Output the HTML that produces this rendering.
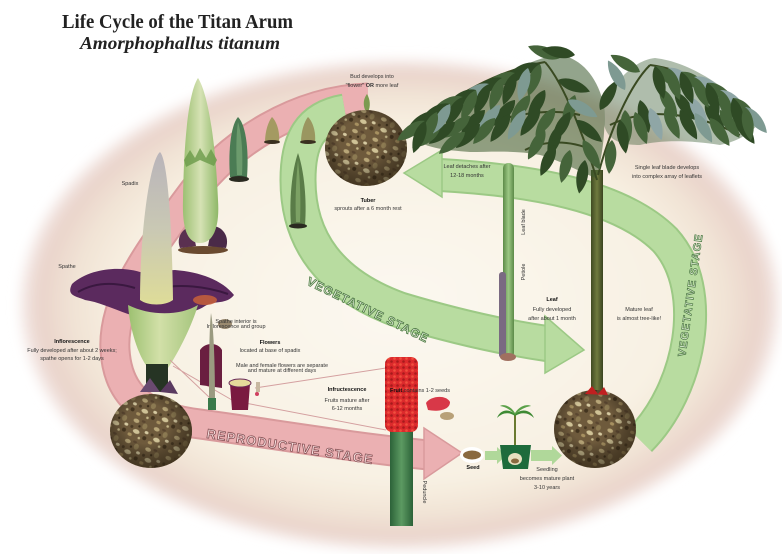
<!DOCTYPE html>
<html><head><meta charset="utf-8"><style>
html,body{margin:0;padding:0;background:#fff;}
svg{display:block;}
.t{font-family:"Liberation Sans",sans-serif;font-size:5.5px;fill:#333;text-anchor:middle;}
.b{font-weight:bold;fill:#111;}
</style></head><body>
<svg width="782" height="554" viewBox="0 0 782 554" xmlns="http://www.w3.org/2000/svg">
<defs>
<radialGradient id="bg" cx="0.5" cy="0.5" r="0.5">
<stop offset="0" stop-color="#fbf8f0"/>
<stop offset="0.72" stop-color="#f8f1e3"/>
<stop offset="0.86" stop-color="#f1e3d5"/>
<stop offset="0.95" stop-color="#e9d3ca"/>
<stop offset="1" stop-color="#f6ecea"/>
</radialGradient>
<filter id="bl" x="-5%" y="-5%" width="110%" height="110%"><feGaussianBlur stdDeviation="6"/></filter>
<pattern id="tp" width="22" height="22" patternUnits="userSpaceOnUse" patternTransform="rotate(23)">
<rect width="22" height="22" fill="#6e5a3c"/>
<ellipse cx="4" cy="4" rx="3" ry="2" fill="#b8a678"/>
<ellipse cx="14" cy="6" rx="2.5" ry="3" fill="#8c7a52"/>
<ellipse cx="8" cy="14" rx="3.5" ry="2.2" fill="#cfc296"/>
<circle cx="18" cy="17" r="2" fill="#43341f"/>
<circle cx="2" cy="11" r="1.5" fill="#4a3a24"/>
<ellipse cx="11" cy="2" rx="2" ry="1.2" fill="#5a4630"/>
<ellipse cx="18" cy="11" rx="2" ry="1.5" fill="#d6caa2"/>
<ellipse cx="3" cy="19" rx="2.2" ry="1.6" fill="#a69060"/>
<circle cx="13" cy="19" r="1.3" fill="#c4b688"/>
<circle cx="9" cy="8" r="1.2" fill="#3e301c"/>
</pattern>
<radialGradient id="tsh" cx="0.45" cy="0.4" r="0.6">
<stop offset="0.45" stop-color="#000" stop-opacity="0"/>
<stop offset="1" stop-color="#2a2010" stop-opacity="0.6"/>
</radialGradient>
<linearGradient id="spx" x1="0" y1="0" x2="0" y2="1">
<stop offset="0" stop-color="#b9b4ba"/>
<stop offset="0.5" stop-color="#c9c8b4"/>
<stop offset="1" stop-color="#dedc98"/>
</linearGradient>
<linearGradient id="bud" x1="0" y1="0" x2="1" y2="0">
<stop offset="0" stop-color="#9cc072"/>
<stop offset="0.5" stop-color="#d6e2b4"/>
<stop offset="1" stop-color="#8fb868"/>
</linearGradient>
<linearGradient id="cup" x1="0" y1="0" x2="1" y2="0">
<stop offset="0" stop-color="#9cc070"/>
<stop offset="0.45" stop-color="#d2e0a8"/>
<stop offset="1" stop-color="#a4c47c"/>
</linearGradient>
<linearGradient id="stk" x1="0" y1="0" x2="1" y2="0">
<stop offset="0" stop-color="#2c6238"/>
<stop offset="0.5" stop-color="#5c9a62"/>
<stop offset="1" stop-color="#2c6238"/>
</linearGradient>
<linearGradient id="trk" x1="0" y1="0" x2="1" y2="0">
<stop offset="0" stop-color="#3f4a22"/>
<stop offset="0.5" stop-color="#6f7a3e"/>
<stop offset="1" stop-color="#3a4420"/>
</linearGradient>
<linearGradient id="yl" x1="0" y1="0" x2="1" y2="0">
<stop offset="0" stop-color="#5c8a48"/>
<stop offset="0.5" stop-color="#9cc884"/>
<stop offset="1" stop-color="#5c8a48"/>
</linearGradient>
<pattern id="rp" width="6" height="6" patternUnits="userSpaceOnUse">
<rect width="6" height="6" fill="#dc2a2c"/>
<circle cx="1.5" cy="1.5" r="1.3" fill="#a81a1c"/>
<circle cx="4.5" cy="4.5" r="1.3" fill="#f0503e"/>
</pattern>
<path id="lf" d="M0 0 C 8 -8 24 -7 34 0 C 24 7 8 8 0 0 Z"/>
</defs>

<!-- background ellipse -->
<ellipse cx="400" cy="305" rx="380" ry="245" fill="url(#bg)" filter="url(#bl)"/>

<!-- title -->
<text x="62" y="28" font-family="Liberation Serif,serif" font-weight="bold" font-size="20" fill="#222" textLength="231" lengthAdjust="spacingAndGlyphs">Life Cycle of the Titan Arum</text>
<text x="80" y="49" font-family="Liberation Serif,serif" font-weight="bold" font-style="italic" font-size="18" fill="#222" textLength="200" lengthAdjust="spacingAndGlyphs">Amorphophallus titanum</text>

<!-- pink reproductive band -->
<path d="M 368 98 C 300 100, 230 140, 187 200 C 150 250, 112 300, 115 350 C 118 400, 150 418, 200 424 C 280 435, 350 447, 428 455" fill="none" stroke="#d99a9c" stroke-width="31"/>
<path d="M 368 98 C 300 100, 230 140, 187 200 C 150 250, 112 300, 115 350 C 118 400, 150 418, 200 424 C 280 435, 350 447, 428 455" fill="none" stroke="#ebb0b2" stroke-width="27"/>
<polygon points="424,428 462,453 424,479" fill="#ebb0b2" stroke="#d99a9c" stroke-width="1.5"/>
<text x="290" y="451" transform="rotate(9 290 447)" font-family="Liberation Sans,sans-serif" font-weight="bold" font-size="13" fill="#f6dede" stroke="#8a5458" stroke-width="0.8" text-anchor="middle" letter-spacing="1">REPRODUCTIVE STAGE</text>

<!-- green left band -->
<path d="M 345 112 C 310 118, 298 140, 298 180 C 298 240, 330 285, 400 310 C 450 325, 500 337, 550 344" fill="none" stroke="#9cc985" stroke-width="37"/>
<path d="M 345 112 C 310 118, 298 140, 298 180 C 298 240, 330 285, 400 310 C 450 325, 500 337, 550 344" fill="none" stroke="#b8dca0" stroke-width="33"/>
<polygon points="545,316 584,350 545,373" fill="#b8dca0" stroke="#9cc985" stroke-width="1.5"/>
<text x="368" y="314" transform="rotate(26 368 310)" font-family="Liberation Sans,sans-serif" font-weight="bold" font-size="12" fill="#e4f2da" stroke="#4f7a46" stroke-width="0.8" text-anchor="middle" letter-spacing="1">VEGETATIVE STAGE</text>

<!-- green right band -->
<path d="M 440 175 C 530 180, 620 195, 665 240 C 710 290, 690 390, 640 440" fill="none" stroke="#9cc985" stroke-width="34"/>
<path d="M 440 175 C 530 180, 620 195, 665 240 C 710 290, 690 390, 640 440" fill="none" stroke="#b8dca0" stroke-width="30"/>
<polygon points="442,150 404,173 442,197" fill="#b8dca0" stroke="#9cc985" stroke-width="1.5"/>
<text x="690" y="299" transform="rotate(-82 690 295)" font-family="Liberation Sans,sans-serif" font-weight="bold" font-size="11" fill="#e4f2da" stroke="#4f7a46" stroke-width="0.7" text-anchor="middle" letter-spacing="1">VEGETATIVE STAGE</text>

<!-- top tuber -->
<path d="M366 112 C 362 104 364 98 367 94 C 370 99 371 106 368 112 Z" fill="#7c9a50"/>
<ellipse cx="366" cy="148" rx="41" ry="38" fill="url(#tp)"/>
<ellipse cx="366" cy="148" rx="41" ry="38" fill="url(#tsh)"/>
<text class="t" x="372" y="78">Bud develops into</text>
<text class="t" x="372" y="87">"flower" <tspan font-weight="bold">OR</tspan> more leaf</text>
<text class="t b" x="368" y="202">Tuber</text>
<text class="t" x="368" y="210">sprouts after a 6 month rest</text>

<!-- small buds -->
<path d="M272 117 C 277 122 280 132 279 142 L 265 142 C 265 132 268 122 272 117 Z" fill="#a49a62"/>
<ellipse cx="272" cy="142" rx="8" ry="2" fill="#3a3020"/>
<path d="M308 117 C 313 122 316 132 315 142 L 301 142 C 301 132 304 122 308 117 Z" fill="#9a9660"/>
<ellipse cx="308" cy="142" rx="8" ry="2" fill="#3a3020"/>
<path d="M238 117 C 246 125 249 150 247 177 L 230 177 C 228 150 231 125 238 117 Z" fill="#4b7c54"/>
<path d="M238 122 C 242 135 243 155 242 175 L 237 175 C 236 155 236 135 238 122 Z" fill="#7aa878" opacity="0.7"/>
<ellipse cx="239" cy="179" rx="10" ry="3" fill="#2a2a20"/>
<path d="M298 153 C 304 170 307 200 305 225 L 291 225 C 289 200 292 170 298 153 Z" fill="#5a7c48"/>
<path d="M298 160 C 300 180 301 200 300 222 L 296 222 C 295 200 296 180 298 160 Z" fill="#8ab070" opacity="0.7"/>
<ellipse cx="298" cy="226" rx="9" ry="2.5" fill="#2a2a20"/>

<!-- bud (2nd stage) -->
<ellipse cx="203" cy="250" rx="25" ry="4" fill="#6a4a30"/>
<path d="M180 248 C 176 238 182 228 192 226 L 196 246 Z" fill="#5a3050"/>
<path d="M226 248 C 230 236 222 226 212 226 L 208 246 Z" fill="#4a2a48"/>
<path d="M198 78 C 206 90 215 130 218 200 C 220 230 212 243 200 243 C 188 243 182 230 183 200 C 184 130 190 90 198 78 Z" fill="url(#bud)"/>
<path d="M184 160 L 190 150 L 195 158 L 200 148 L 206 158 L 211 149 L 217 160 L 214 166 L 200 160 L 186 167 Z" fill="#6a9a48" opacity="0.8"/>
<text class="t" x="130" y="185" font-size="5">Spadix</text>

<!-- big inflorescence -->
<path d="M72 284 C 90 268 120 266 140 272 L 175 270 C 200 272 222 280 234 295 C 226 305 215 300 205 306 C 190 316 175 312 165 318 L 140 318 C 120 312 100 302 85 300 C 76 296 66 296 72 284 Z" fill="#5b2a5e"/>
<path d="M78 292 C 95 282 115 282 135 288 M160 288 C 180 284 205 286 228 294" stroke="#3a1840" stroke-width="2" fill="none"/>
<ellipse cx="205" cy="300" rx="12" ry="5" fill="#c8603a" opacity="0.85"/>
<path d="M128 305 C 130 330 138 355 148 368 L 168 368 C 180 350 192 325 198 305 C 180 316 150 316 128 305 Z" fill="url(#cup)"/>
<path d="M160 152 C 168 160 172 230 173 300 C 165 306 148 306 140 300 C 140 230 150 160 160 152 Z" fill="url(#spx)"/>
<rect x="146" y="364" width="22" height="28" fill="#263424"/>
<path d="M140 392 L 150 378 L 160 392 Z" fill="#6a4a70"/>
<path d="M160 392 L 170 380 L 178 394 Z" fill="#5a3a60"/>
<text class="t" x="67" y="268" font-size="5">Spathe</text>
<text class="t b" x="72" y="343">Inflorescence</text>
<text class="t" x="72" y="352">Fully developed after about 2 weeks;</text>
<text class="t" x="72" y="360">spathe opens for 1-2 days</text>

<!-- bottom-left tuber -->
<ellipse cx="151" cy="431" rx="41" ry="37" fill="url(#tp)"/>
<ellipse cx="151" cy="431" rx="41" ry="37" fill="url(#tsh)"/>

<!-- connector lines -->
<path d="M170 360 L 210 398 M173 366 L 232 400 M255 388 L 386 368 M245 403 L 386 430" stroke="#d4a0a0" stroke-width="1" fill="none"/>

<!-- flower details -->
<ellipse cx="225" cy="324" rx="7" ry="5" fill="#9a8a70"/>
<text class="t" x="236" y="323" font-size="3.8" text-anchor="start">Spathe interior is</text>
<text class="t" x="236" y="328" font-size="3.8" text-anchor="start">Inflorescence and group</text>
<path d="M200 350 C 205 342 218 342 222 350 L 222 388 L 200 385 Z" fill="#6a1e40"/>
<path d="M211 313 C 214 330 215 370 215 405 L 209 405 C 209 370 209 330 211 313 Z" fill="#9a9a80"/>
<rect x="208" y="398" width="8" height="12" fill="#3a7a4a"/>
<path d="M230 384 L 250 384 L 248 410 L 232 410 Z" fill="#7a1a40"/>
<ellipse cx="240" cy="383" rx="11" ry="4" fill="#e6da9a" stroke="#6a2a5a" stroke-width="1"/>
<rect x="256" y="382" width="4" height="10" fill="#c8b8a0"/>
<circle cx="257" cy="394" r="2" fill="#d04060"/>
<text class="t b" x="270" y="344" font-size="6">Flowers</text>
<text class="t" x="270" y="352">located at base of spadix</text>
<text class="t" x="282" y="367" font-size="4">Male and female flowers are separate</text>
<text class="t" x="282" y="372" font-size="4">and mature at different days</text>
<text class="t b" x="347" y="391">Infructescence</text>
<text class="t" x="347" y="402">Fruits mature after</text>
<text class="t" x="347" y="410">6-12 months</text>

<!-- infructescence -->
<rect x="390" y="426" width="23" height="100" fill="url(#stk)"/>
<rect x="385" y="357" width="33" height="75" rx="7" fill="url(#rp)"/>
<text class="t" x="0" y="0" transform="translate(423 492) rotate(90)" font-size="5">Peduncle</text>

<!-- fruit -->
<path d="M426 403 C 430 396 446 394 450 402 C 450 410 438 412 428 410 Z" fill="#d83848"/>
<ellipse cx="447" cy="416" rx="7" ry="4" fill="#b8a078"/>
<text class="t" x="420" y="392" text-anchor="start"><tspan font-weight="bold" fill="#111">Fruit</tspan> contains 1-2 seeds</text>

<!-- seed -->
<ellipse cx="472" cy="455" rx="12" ry="8" fill="#fff"/>
<ellipse cx="472" cy="455" rx="9" ry="4.5" fill="#8a6a40"/>
<text class="t b" x="473" y="469">Seed</text>
<polygon points="485,451 497,451 497,447 506,455.5 497,464 497,460 485,460" fill="#b0d89a"/>
<polygon points="531,450 552,450 552,446 562,455.5 552,465 552,461 531,461" fill="#b0d89a"/>

<!-- seedling -->
<line x1="515" y1="446" x2="515" y2="414" stroke="#6a7a30" stroke-width="2"/>
<path d="M515 414 C 508 408 500 410 497 418 C 503 412 509 412 515 416 Z" fill="#3e8a34"/>
<path d="M515 414 C 522 408 531 410 534 418 C 528 412 521 412 515 416 Z" fill="#3e8a34"/>
<path d="M515 413 C 510 405 503 404 500 406 C 506 407 511 410 515 415 Z" fill="#5aa048"/>
<path d="M515 413 C 520 405 528 404 531 406 C 525 407 519 410 515 415 Z" fill="#5aa048"/>
<polygon points="500,445 531,445 528,469 503,469" fill="#1e6b3c"/>
<ellipse cx="515" cy="459" rx="7" ry="6" fill="#e8e0c0"/>
<ellipse cx="515" cy="461" rx="4" ry="2.5" fill="#8a6a40"/>
<text class="t" x="547" y="471">Seedling</text>
<text class="t" x="547" y="480">becomes mature plant</text>
<text class="t" x="547" y="489">3-10 years</text>

<!-- young leaf stalk -->
<rect x="503" y="163" width="11" height="195" rx="5" fill="url(#yl)"/>
<rect x="499" y="272" width="7" height="86" rx="3" fill="#7a6a82"/>
<ellipse cx="508" cy="357" rx="8" ry="4" fill="#a07060"/>
<text class="t" x="0" y="0" transform="translate(525 222) rotate(-90)" font-size="5">Leaf blade</text>
<text class="t" x="0" y="0" transform="translate(525 272) rotate(-90)" font-size="5">Petiole</text>
<text class="t b" x="552" y="301">Leaf</text>
<text class="t" x="552" y="311">Fully developed</text>
<text class="t" x="552" y="320">after about 1 month</text>
<text class="t" x="639" y="311">Mature leaf</text>
<text class="t" x="639" y="320">is almost tree-like!</text>

<!-- right tuber + tree -->
<rect x="591" y="170" width="12" height="226" fill="url(#trk)"/>
<ellipse cx="595" cy="429" rx="41" ry="39" fill="url(#tp)"/>
<ellipse cx="595" cy="429" rx="41" ry="39" fill="url(#tsh)"/>
<path d="M585 394 L 592 386 L 598 394 L 604 387 L 608 395 Z" fill="#c02020"/>

<!-- canopy underlay -->
<path d="M413 135 C 430 112 470 88 510 72 C 530 62 548 54 565 56 C 585 62 598 80 604 105 C 606 130 602 160 596 178 C 575 170 560 160 540 155 C 515 150 490 152 470 152 C 445 150 420 148 413 135 Z" fill="#3a5a2e" opacity="0.55"/>
<path d="M604 105 C 615 80 635 60 655 58 C 690 62 730 88 760 122 C 750 135 735 142 720 145 C 690 140 660 140 640 145 C 620 145 608 140 604 125 Z" fill="#4e6c48" opacity="0.45"/>

<!-- canopy rachis -->
<g stroke="#3a4a22" stroke-width="2" fill="none">
<path d="M597 180 C 585 140 565 85 545 62"/>
<path d="M545 62 C 500 70 450 95 415 130"/>
<path d="M580 115 C 540 105 480 120 445 145"/>
<path d="M592 150 C 570 140 545 140 525 150"/>
<path d="M598 175 C 610 130 630 85 650 65"/>
<path d="M650 65 C 690 70 730 95 762 125"/>
<path d="M610 125 C 650 105 700 115 740 135"/>
</g>
<!-- left cluster leaves -->
<g>
<use href="#lf" transform="translate(545 90) rotate(120)" fill="#2f4a25"/>
<use href="#lf" transform="translate(530 95) rotate(125)" fill="#45643a"/>
<use href="#lf" transform="translate(515 100) rotate(130)" fill="#2f4a25"/>
<use href="#lf" transform="translate(500 105) rotate(130)" fill="#7e9a92"/>
<use href="#lf" transform="translate(485 110) rotate(135)" fill="#2f4a25"/>
<use href="#lf" transform="translate(470 116) rotate(140)" fill="#45643a"/>
<use href="#lf" transform="translate(455 122) rotate(140)" fill="#2f4a25"/>
<use href="#lf" transform="translate(440 128) rotate(145)" fill="#45643a"/>
<use href="#lf" transform="translate(575 95) rotate(110)" fill="#45643a"/>
<use href="#lf" transform="translate(560 125) rotate(110)" fill="#2f4a25"/>
<use href="#lf" transform="translate(545 130) rotate(120)" fill="#45643a"/>
<use href="#lf" transform="translate(585 160) rotate(100)" fill="#2f4a25"/>
<use href="#lf" transform="translate(570 150) rotate(105)" fill="#45643a"/>
<use href="#lf" transform="translate(555 145) rotate(115)" fill="#2f4a25"/>
<use href="#lf" transform="translate(540 64) rotate(160)" fill="#2f4a25"/>
<use href="#lf" transform="translate(540 64) rotate(110)" fill="#45643a"/>
<use href="#lf" transform="translate(528 68) rotate(150)" fill="#2f4a25"/>
<use href="#lf" transform="translate(528 68) rotate(105)" fill="#7e9a92"/>
<use href="#lf" transform="translate(515 73) rotate(155)" fill="#45643a"/>
<use href="#lf" transform="translate(515 73) rotate(110)" fill="#2f4a25"/>
<use href="#lf" transform="translate(502 78) rotate(150)" fill="#2f4a25"/>
<use href="#lf" transform="translate(502 78) rotate(110)" fill="#45643a"/>
<use href="#lf" transform="translate(489 84) rotate(150)" fill="#7e9a92"/>
<use href="#lf" transform="translate(489 84) rotate(115)" fill="#2f4a25"/>
<use href="#lf" transform="translate(476 90) rotate(150)" fill="#2f4a25"/>
<use href="#lf" transform="translate(476 90) rotate(115)" fill="#45643a"/>
<use href="#lf" transform="translate(463 97) rotate(155)" fill="#45643a"/>
<use href="#lf" transform="translate(463 97) rotate(120)" fill="#2f4a25"/>
<use href="#lf" transform="translate(450 104) rotate(150)" fill="#2f4a25"/>
<use href="#lf" transform="translate(450 104) rotate(120)" fill="#7e9a92"/>
<use href="#lf" transform="translate(437 112) rotate(150)" fill="#2f4a25"/>
<use href="#lf" transform="translate(437 112) rotate(115)" fill="#45643a"/>
<use href="#lf" transform="translate(425 121) rotate(145)" fill="#45643a"/>
<use href="#lf" transform="translate(425 121) rotate(110)" fill="#2f4a25"/>
<use href="#lf" transform="translate(570 112) rotate(120)" fill="#2f4a25"/>
<use href="#lf" transform="translate(555 108) rotate(125)" fill="#45643a"/>
<use href="#lf" transform="translate(540 108) rotate(125)" fill="#2f4a25"/>
<use href="#lf" transform="translate(525 110) rotate(120)" fill="#7e9a92"/>
<use href="#lf" transform="translate(510 114) rotate(125)" fill="#2f4a25"/>
<use href="#lf" transform="translate(495 118) rotate(130)" fill="#45643a"/>
<use href="#lf" transform="translate(480 124) rotate(135)" fill="#2f4a25"/>
<use href="#lf" transform="translate(465 132) rotate(140)" fill="#45643a"/>
<use href="#lf" transform="translate(583 140) rotate(60)" fill="#45643a"/>
<use href="#lf" transform="translate(576 120) rotate(40)" fill="#2f4a25"/>
<use href="#lf" transform="translate(568 100) rotate(30)" fill="#7e9a92"/>
<use href="#lf" transform="translate(558 80) rotate(20)" fill="#2f4a25"/>
<use href="#lf" transform="translate(560 58) rotate(200)" fill="#45643a"/>
<use href="#lf" transform="translate(575 55) rotate(190)" fill="#2f4a25"/>
</g>
<!-- right cluster leaves -->
<g>
<use href="#lf" transform="translate(660 88) rotate(60)" fill="#45643a"/>
<use href="#lf" transform="translate(675 92) rotate(55)" fill="#2f4a25"/>
<use href="#lf" transform="translate(690 97) rotate(60)" fill="#8fa6a6"/>
<use href="#lf" transform="translate(705 104) rotate(55)" fill="#2f4a25"/>
<use href="#lf" transform="translate(720 110) rotate(55)" fill="#45643a"/>
<use href="#lf" transform="translate(735 116) rotate(55)" fill="#2f4a25"/>
<use href="#lf" transform="translate(640 100) rotate(75)" fill="#2f4a25"/>
<use href="#lf" transform="translate(625 110) rotate(85)" fill="#45643a"/>
<use href="#lf" transform="translate(612 140) rotate(95)" fill="#45643a"/>
<use href="#lf" transform="translate(655 66) rotate(40)" fill="#45643a"/>
<use href="#lf" transform="translate(655 66) rotate(75)" fill="#2f4a25"/>
<use href="#lf" transform="translate(668 68) rotate(35)" fill="#8fa6a6"/>
<use href="#lf" transform="translate(668 68) rotate(70)" fill="#45643a"/>
<use href="#lf" transform="translate(681 72) rotate(35)" fill="#45643a"/>
<use href="#lf" transform="translate(681 72) rotate(70)" fill="#2f4a25"/>
<use href="#lf" transform="translate(694 77) rotate(30)" fill="#8fa6a6"/>
<use href="#lf" transform="translate(694 77) rotate(65)" fill="#45643a"/>
<use href="#lf" transform="translate(707 83) rotate(35)" fill="#45643a"/>
<use href="#lf" transform="translate(707 83) rotate(70)" fill="#2f4a25"/>
<use href="#lf" transform="translate(720 90) rotate(40)" fill="#8fa6a6"/>
<use href="#lf" transform="translate(720 90) rotate(70)" fill="#45643a"/>
<use href="#lf" transform="translate(733 98) rotate(45)" fill="#45643a"/>
<use href="#lf" transform="translate(733 98) rotate(75)" fill="#2f4a25"/>
<use href="#lf" transform="translate(745 107) rotate(50)" fill="#7e9a92"/>
<use href="#lf" transform="translate(745 107) rotate(80)" fill="#45643a"/>
<use href="#lf" transform="translate(620 120) rotate(80)" fill="#2f4a25"/>
<use href="#lf" transform="translate(635 112) rotate(70)" fill="#45643a"/>
<use href="#lf" transform="translate(650 108) rotate(70)" fill="#8fa6a6"/>
<use href="#lf" transform="translate(665 108) rotate(65)" fill="#45643a"/>
<use href="#lf" transform="translate(680 110) rotate(60)" fill="#2f4a25"/>
<use href="#lf" transform="translate(695 113) rotate(60)" fill="#7e9a92"/>
<use href="#lf" transform="translate(710 118) rotate(55)" fill="#45643a"/>
<use href="#lf" transform="translate(600 110) rotate(-60)" fill="#2f4a25"/>
<use href="#lf" transform="translate(640 72) rotate(-150)" fill="#45643a"/>
<use href="#lf" transform="translate(625 90) rotate(-120)" fill="#7e9a92"/>
</g>

<text class="t" x="467" y="168">Leaf detaches after</text>
<text class="t" x="467" y="177">12-18 months</text>
<text class="t" x="667" y="169">Single leaf blade develops</text>
<text class="t" x="667" y="178">into complex array of leaflets</text>
</svg>
</body></html>
